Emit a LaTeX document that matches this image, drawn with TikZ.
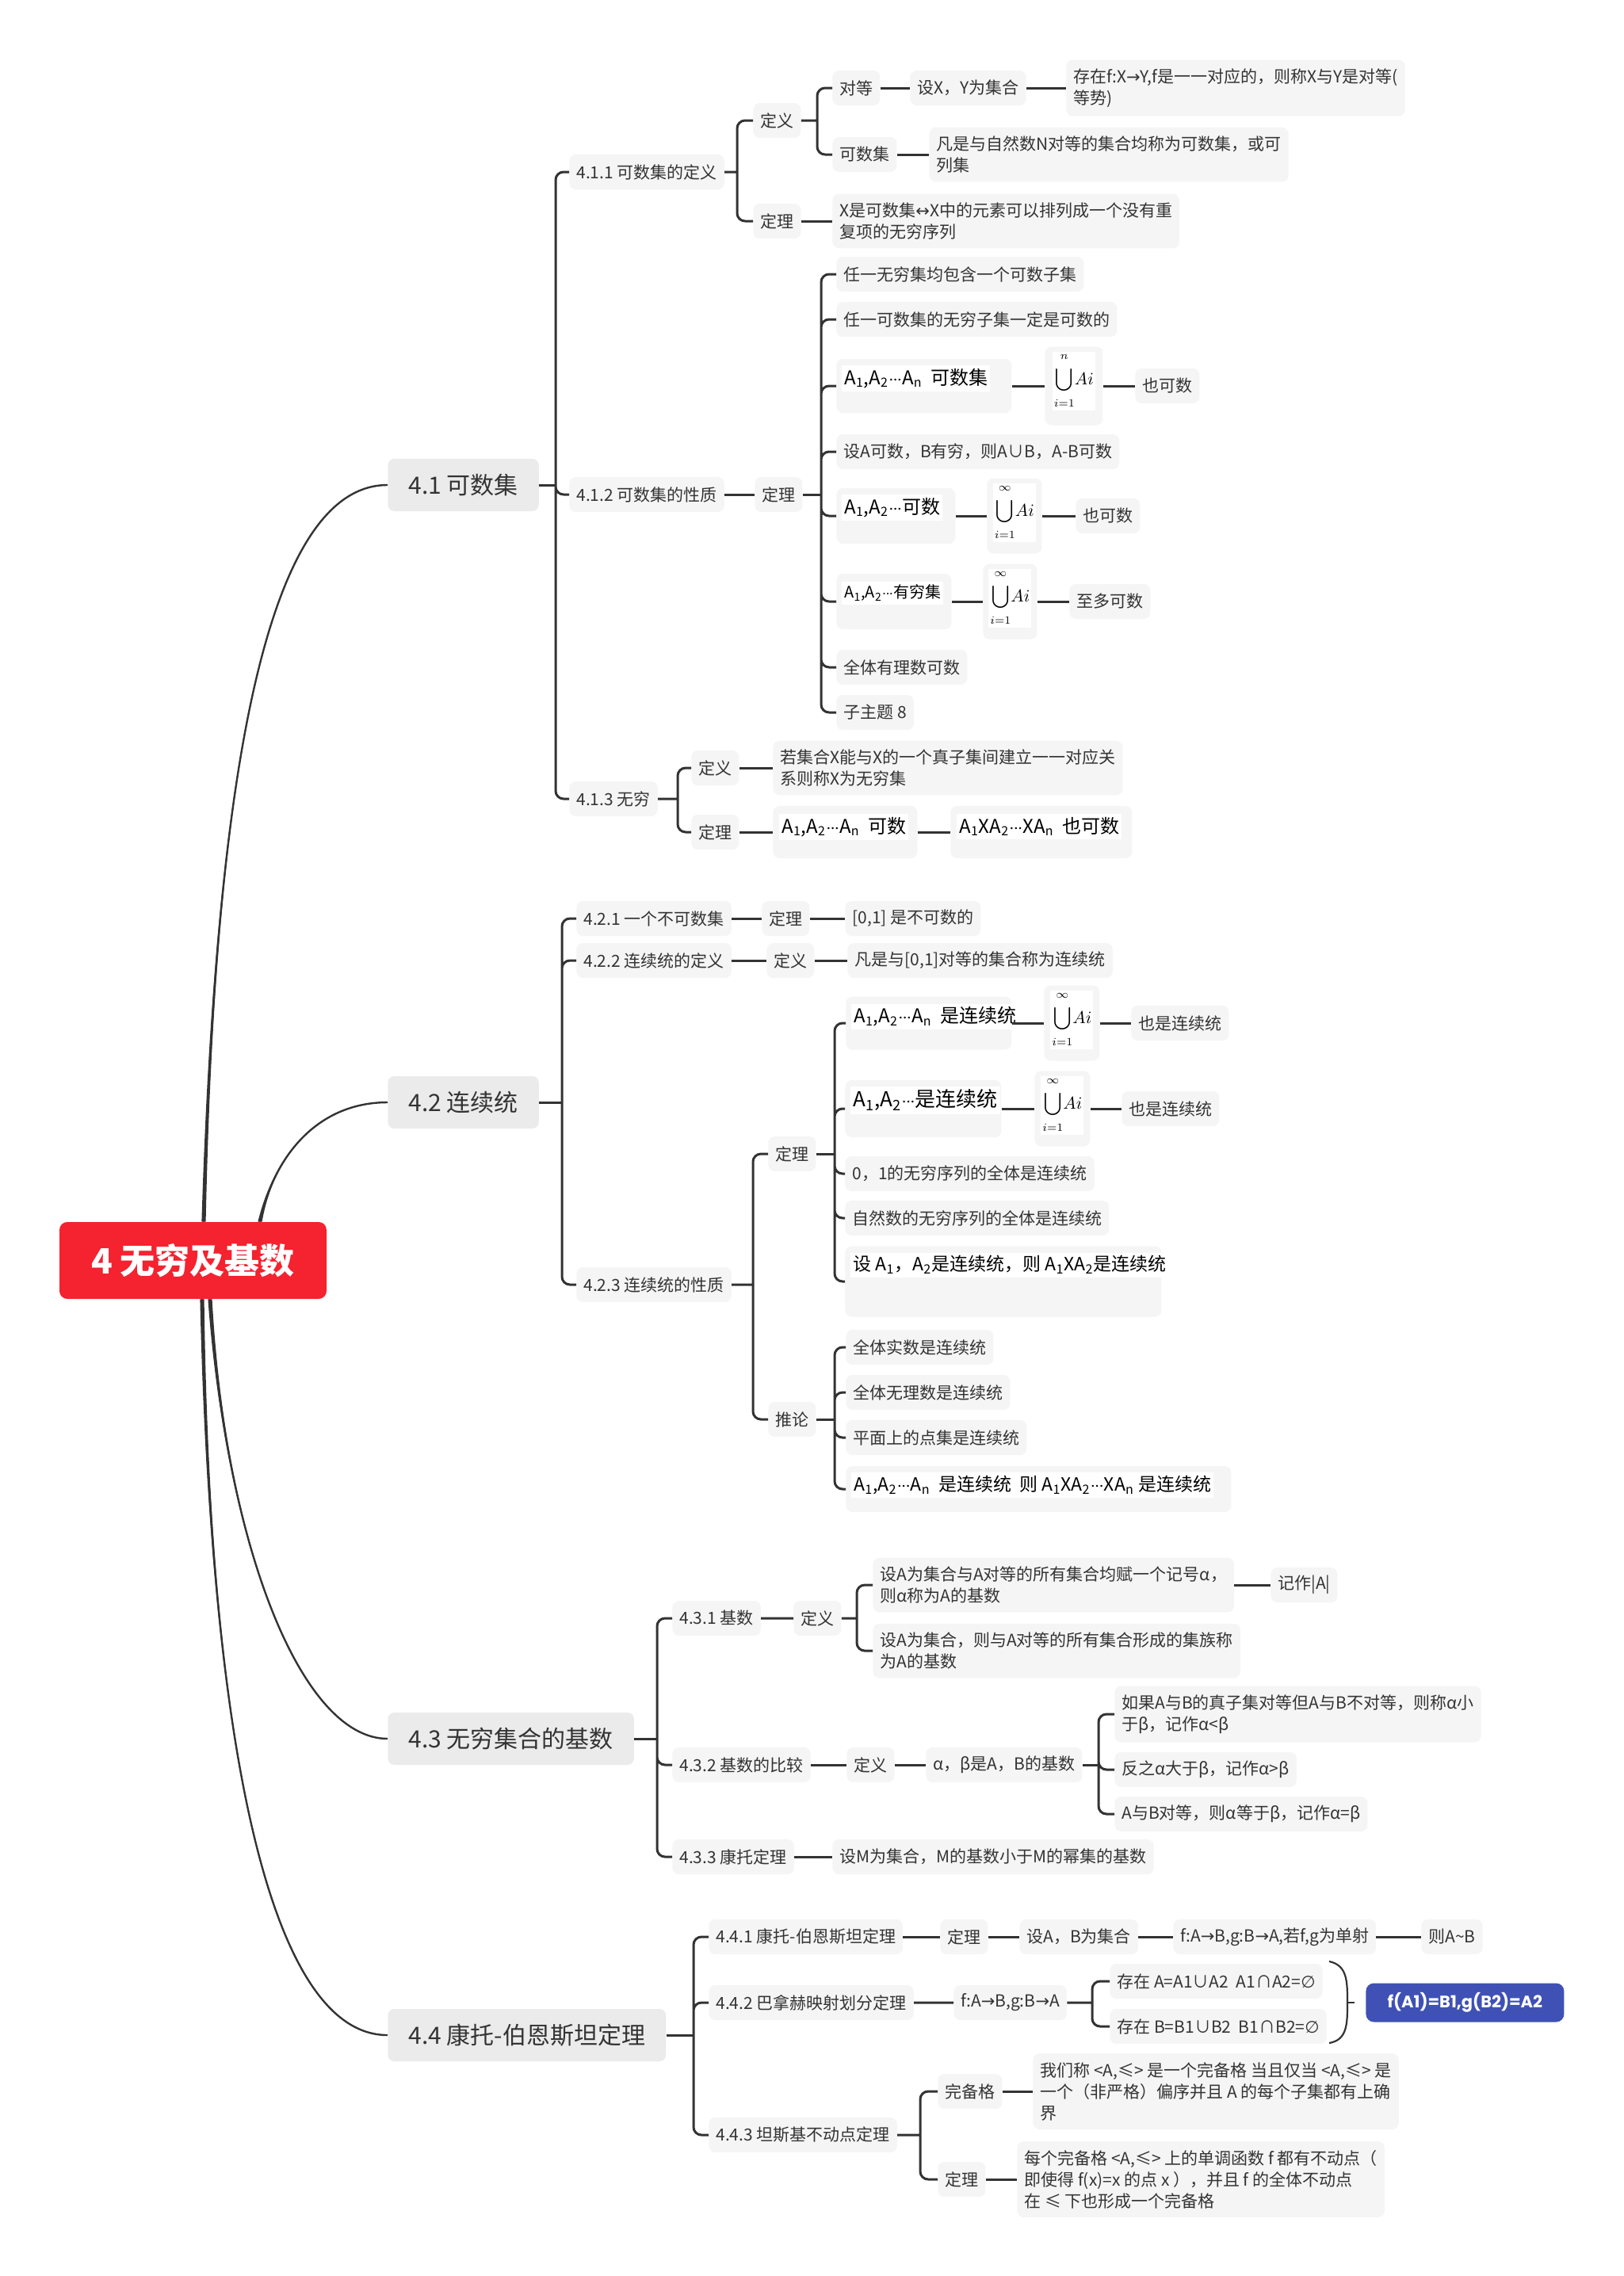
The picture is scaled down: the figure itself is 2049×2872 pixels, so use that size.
\documentclass[tikz,border=0pt]{standalone}
\usepackage{fontspec}
\setmainfont{Noto Sans CJK SC}
\newfontfamily\symfont{DejaVu Sans}
\newfontfamily\popfont{Poppins}
\usetikzlibrary{calc}

\definecolor{linec}{HTML}{333333}
\definecolor{boxc}{HTML}{F5F5F5}
\definecolor{mainc}{HTML}{EBEBEB}
\definecolor{rootc}{HTML}{F5222F}
\definecolor{bluec}{HTML}{3F51B5}
\definecolor{textc}{HTML}{333333}

\newcommand{\subi}[1]{\textsubscript{#1}}
\newcommand{\cdd}{\mbox{$\cdotp\mkern-4mu\cdotp\mkern-4mu\cdotp$}}
\newcommand{\unionof}[1]{$\displaystyle\bigcup\limits_{\raisebox{-3pt}{$\scriptstyle i=1$}}^{\raisebox{3pt}{$\scriptstyle #1$}}\!Ai$}

\tikzset{
  conn/.style={draw=linec, line width=1.5pt, rounded corners=5pt},
  trunk/.style={draw=linec, line width=1.2pt},
  paren/.style={draw=linec, line width=1.1pt},
  tbox/.style={fill=boxc, rounded corners=4pt, text=textc, inner xsep=4.5pt, inner ysep=0pt, minimum height=22pt, font=\fontsize{10.5}{13.5}\selectfont, anchor=west},
  para/.style={tbox, align=left, inner ysep=5.5pt},
  mainbox/.style={tbox, fill=mainc, minimum height=33pt, inner xsep=13pt, font=\fontsize{15}{18}\selectfont},
  rootbox/.style={fill=rootc, rounded corners=5pt, text=white, minimum width=168.5pt, minimum height=48.5pt, font=\fontsize{22}{26}\selectfont\bfseries},
  bluebox/.style={fill=bluec, rounded corners=5pt, text=white, anchor=west, minimum width=125pt, minimum height=24.5pt, font=\popfont\fontsize{10.5}{12}\selectfont\bfseries},
  imgbox/.style={fill=boxc, rounded corners=4pt, inner sep=0pt, anchor=west},
  imgtxt/.style={fill=white, inner xsep=1.5pt, inner ysep=2pt, anchor=north west, text=black, font=\fontsize{12}{14}\selectfont},
  unitxt/.style={fill=white, inner sep=1pt, anchor=north, text=black, font=\fontsize{10.5}{12}\selectfont},
}

\begin{document}
\begin{tikzpicture}[x=0.5pt,y=-0.5pt]
\useasboundingbox (0,0) rectangle (2049,2872);

% root and main topics
\node[rootbox] (root) at (243.5,1590.5) {4 无穷及基数};
\node[mainbox] (b41) at (489,612) {4.1 可数集};
\node[mainbox] (b42) at (489,1391) {4.2 连续统};
\node[mainbox] (b43) at (489,2194) {4.3 无穷集合的基数};
\node[mainbox] (b44) at (489,2568) {4.4 康托-伯恩斯坦定理};

\coordinate (r41) at ([xshift=6.75pt]root.north);
\coordinate (r42) at ([xshift=42.25pt]root.north);
\coordinate (r43) at ([xshift=10.75pt]root.south);
\coordinate (r44) at ([xshift=5.75pt]root.south);
\draw[trunk] (r41) .. controls (272,960) and (340,612) .. (b41.west);
\draw[trunk] (r42) .. controls (345,1460) and (400,1391) .. (b42.west);
\draw[trunk] (r43) .. controls (285,1950) and (380,2194) .. (b43.west);
\draw[trunk] (r44) .. controls (265,2200) and (340,2568) .. (b44.west);
\fill[linec] ([xshift=-1.3pt]r41) .. controls (272,960) and (340,612) .. (b41.west) .. controls (340,612) and (272,960) .. ([xshift=1.3pt]r41) -- cycle;
\fill[linec] ([xshift=-1.3pt]r42) .. controls (345,1460) and (400,1391) .. (b42.west) .. controls (400,1391) and (345,1460) .. ([xshift=1.3pt]r42) -- cycle;
\fill[linec] ([xshift=-1.3pt]r43) .. controls (285,1950) and (380,2194) .. (b43.west) .. controls (380,2194) and (285,1950) .. ([xshift=1.3pt]r43) -- cycle;
\fill[linec] ([xshift=-1.3pt]r44) .. controls (265,2200) and (340,2568) .. (b44.west) .. controls (340,2568) and (265,2200) .. ([xshift=1.3pt]r44) -- cycle;

% 4.1
\node[tbox] (n411) at (718,217) {4.1.1 可数集的定义};
\node[tbox] (n412) at (718,624) {4.1.2 可数集的性质};
\node[tbox] (n413) at (718,1008) {4.1.3 无穷};
\coordinate (j41) at (701,612);
\draw[conn] (b41.east) -- (j41);
\draw[conn] (j41) |- (n411.west) (j41) |- (n412.west) (j41) |- (n413.west);

\node[tbox] (n411a) at (950,152) {定义};
\node[tbox] (n411b) at (950,279) {定理};
\node[tbox] (n411a1) at (1050,111) {对等};
\node[tbox] (n411a1x) at (1148,111) {设X，Y为集合};
\node[para] (n411a1y) at (1345,111) {存在f:X{\symfont →}Y,f是一一对应的，则称X与Y是对等(\\等势)};
\node[tbox] (n411a2) at (1050,195) {可数集};
\node[para] (n411a2x) at (1172,195) {凡是与自然数N对等的集合均称为可数集，或可\\列集};
\node[para] (n411b1) at (1050,279) {X是可数集{\symfont ↔}X中的元素可以排列成一个没有重\\复项的无穷序列};
\coordinate (j411) at (930,217);
\coordinate (j411a) at (1031,152);
\draw[conn] (n411.east) -- (j411) (j411) |- (n411a.west) (j411) |- (n411b.west);
\draw[conn] (n411a.east) -- (j411a) (j411a) |- (n411a1.west) (j411a) |- (n411a2.west);
\draw[conn] (n411a1.east) -- (n411a1x.west) (n411a1x.east) -- (n411a1y.west);
\draw[conn] (n411a2.east) -- (n411a2x.west) (n411b.east) -- (n411b1.west);

\node[tbox] (n412a) at (952,624) {定理};
\node[tbox] (n412a1) at (1055,346) {任一无穷集均包含一个可数子集};
\node[tbox] (n412a2) at (1055,403) {任一可数集的无穷子集一定是可数的};
\node[imgbox, minimum width=110.5pt, minimum height=34pt] (a3) at (1055,487) {};
\node[imgtxt] (a3t) at ([shift={(3.5pt,-4pt)}]a3.north west) {A\subi{1},A\subi{2}\cdd A\subi{n}\ \ 可数集};
\node[imgbox, minimum width=36.5pt, minimum height=49.5pt] (u1) at (1318,487) {};
\node[unitxt] (u1t) at ([yshift=-3pt]u1.north) {\unionof{n}};
\node[tbox] (a3r) at (1432,487) {也可数};
\node[tbox] (n412a4) at (1055,570) {设A可数，B有穷，则A∪B，A-B可数};
\node[imgbox, minimum width=75pt, minimum height=35pt] (a5) at (1055,651) {};
\node[imgtxt] (a5t) at ([shift={(3.5pt,-4pt)}]a5.north west) {A\subi{1},A\subi{2}\cdd 可数};
\node[imgbox, minimum width=34.5pt, minimum height=47.5pt] (u2) at (1245,651) {};
\node[unitxt] (u2t) at ([yshift=-3pt]u2.north) {\unionof{\infty}};
\node[tbox] (a5r) at (1357,651) {也可数};
\node[imgbox, minimum width=72.5pt, minimum height=35pt] (a6) at (1055,759) {};
\node[imgtxt, font=\fontsize{10}{12}\selectfont] (a6t) at ([shift={(3.5pt,-5pt)}]a6.north west) {A\subi{1},A\subi{2}\cdd 有穷集};
\node[imgbox, minimum width=34pt, minimum height=47.5pt] (u3) at (1240,759) {};
\node[unitxt] (u3t) at ([yshift=-3pt]u3.north) {\unionof{\infty}};
\node[tbox] (a6r) at (1349,759) {至多可数};
\node[tbox] (n412a7) at (1055,842) {全体有理数可数};
\node[tbox] (n412a8) at (1055,899) {子主题 8};
\coordinate (j412a) at (1036,624);
\draw[conn] (n412.east) -- (n412a.west) (n412a.east) -- (j412a);
\draw[conn] (j412a) |- (n412a1.west) (j412a) |- (n412a2.west) (j412a) |- (a3.west) (j412a) |- (n412a4.west);
\draw[conn] (j412a) |- (a5.west) (j412a) |- (a6.west) (j412a) |- (n412a7.west) (j412a) |- (n412a8.west);
\draw[conn] (a3.east) -- (u1.west) (u1.east) -- (a3r.west);
\draw[conn] (a5.east) -- (u2.west) (u2.east) -- (a5r.west);
\draw[conn] (a6.east) -- (u3.west) (u3.east) -- (a6r.west);

\node[tbox] (n413a) at (872,969) {定义};
\node[tbox] (n413b) at (872,1050) {定理};
\node[para] (n413a1) at (975,969) {若集合X能与X的一个真子集间建立一一对应关\\系则称X为无穷集};
\node[imgbox, minimum width=91pt, minimum height=33pt] (b1) at (975,1050) {};
\node[imgtxt] (b1t) at ([shift={(4pt,-5pt)}]b1.north west) {A\subi{1},A\subi{2}\cdd A\subi{n}\ \ 可数};
\node[imgbox, minimum width=114.5pt, minimum height=33pt] (b2) at (1199,1050) {};
\node[imgtxt] (b2t) at ([shift={(4pt,-5pt)}]b2.north west) {A\subi{1}XA\subi{2}\cdd XA\subi{n}\ \ 也可数};
\coordinate (j413) at (855,1008);
\draw[conn] (n413.east) -- (j413) (j413) |- (n413a.west) (j413) |- (n413b.west);
\draw[conn] (n413a.east) -- (n413a1.west) (n413b.east) -- (b1.west) (b1.east) -- (b2.west);

% 4.2
\node[tbox] (n421) at (727,1159) {4.2.1 一个不可数集};
\node[tbox] (n421a) at (961,1159) {定理};
\node[tbox] (n421b) at (1066,1159) {[0,1] 是不可数的};
\node[tbox] (n422) at (727,1212) {4.2.2 连续统的定义};
\node[tbox] (n422a) at (967,1212) {定义};
\node[tbox] (n422b) at (1069,1212) {凡是与[0,1]对等的集合称为连续统};
\node[tbox] (n423) at (727,1621) {4.2.3 连续统的性质};
\coordinate (j42) at (709,1391);
\draw[conn] (b42.east) -- (j42);
\draw[conn] (j42) |- (n421.west) (j42) |- (n422.west) (j42) |- (n423.west);
\draw[conn] (n421.east) -- (n421a.west) (n421a.east) -- (n421b.west);
\draw[conn] (n422.east) -- (n422a.west) (n422a.east) -- (n422b.west);

\node[tbox] (n423a) at (969,1456) {定理};
\node[tbox] (n423b) at (969,1791) {推论};
\coordinate (j423) at (950,1621);
\draw[conn] (n423.east) -- (j423) (j423) |- (n423a.west) (j423) |- (n423b.west);

\node[imgbox, minimum width=104.5pt, minimum height=33.5pt] (c1) at (1067,1291) {};
\node[imgtxt] (c1t) at ([shift={(3.5pt,-4.5pt)}]c1.north west) {A\subi{1},A\subi{2}\cdd A\subi{n}\ \ 是连续统};
\node[imgbox, minimum width=35pt, minimum height=47.5pt] (cu1) at (1317,1291) {};
\node[unitxt] (cu1t) at ([yshift=-3pt]cu1.north) {\unionof{\infty}};
\node[tbox] (c1r) at (1427,1291) {也是连续统};
\node[imgbox, minimum width=98.5pt, minimum height=36pt] (c2) at (1066,1399) {};
\node[imgtxt, font=\fontsize{13}{15}\selectfont] (c2t) at ([shift={(3.5pt,-4pt)}]c2.north west) {A\subi{1},A\subi{2}\cdd 是连续统};
\node[imgbox, minimum width=35pt, minimum height=47.5pt] (cu2) at (1305,1399) {};
\node[unitxt] (cu2t) at ([yshift=-3pt]cu2.north) {\unionof{\infty}};
\node[tbox] (c2r) at (1415,1399) {也是连续统};
\node[tbox] (c3) at (1066,1481) {0，1的无穷序列的全体是连续统};
\node[tbox] (c4) at (1066,1537) {自然数的无穷序列的全体是连续统};
\node[imgbox, minimum width=199.5pt, minimum height=44.5pt] (c5) at (1066,1617) {};
\node[imgtxt, font=\fontsize{11.5}{13}\selectfont] (c5t) at ([shift={(3.5pt,-4pt)}]c5.north west) {设 A\subi{1}，A\subi{2}是连续统，则 A\subi{1}XA\subi{2}是连续统};
\coordinate (j423a) at (1053,1456);
\draw[conn] (n423a.east) -- (j423a);
\draw[conn] (j423a) |- (c1.west) (j423a) |- (c2.west) (j423a) |- (c3.west) (j423a) |- (c4.west) (j423a) |- (c5.west);
\draw[conn] (c1.east) -- (cu1.west) (cu1.east) -- (c1r.west);
\draw[conn] (c2.east) -- (cu2.west) (cu2.east) -- (c2r.west);

\node[tbox] (d1) at (1067,1700) {全体实数是连续统};
\node[tbox] (d2) at (1067,1757) {全体无理数是连续统};
\node[tbox] (d3) at (1067,1814) {平面上的点集是连续统};
\node[imgbox, minimum width=243pt, minimum height=29pt] (d4) at (1067,1879) {};
\node[imgtxt, font=\fontsize{11.5}{13}\selectfont] (d4t) at ([shift={(3.5pt,-4pt)}]d4.north west) {A\subi{1},A\subi{2}\cdd A\subi{n}\ \ 是连续统\ \ 则 A\subi{1}XA\subi{2}\cdd XA\subi{n} 是连续统};
\coordinate (j423b) at (1053,1791);
\draw[conn] (n423b.east) -- (j423b);
\draw[conn] (j423b) |- (d1.west) (j423b) |- (d2.west) (j423b) |- (d3.west) (j423b) |- (d4.west);

% 4.3
\node[tbox] (n431) at (848,2042) {4.3.1 基数};
\node[tbox] (n431a) at (1001,2042) {定义};
\node[para] (e1) at (1101,2000) {设A为集合与A对等的所有集合均赋一个记号α，\\则α称为A的基数};
\node[tbox] (e1r) at (1603,2000) {记作|A|};
\node[para] (e2) at (1101,2083) {设A为集合，则与A对等的所有集合形成的集族称\\为A的基数};
\node[tbox] (n432) at (848,2227) {4.3.2 基数的比较};
\node[tbox] (n432a) at (1068,2227) {定义};
\node[tbox] (n432b) at (1168,2227) {α，β是A，B的基数};
\node[para] (f1) at (1406,2163) {如果A与B的真子集对等但A与B不对等，则称α小\\于β，记作α<β};
\node[tbox] (f2) at (1406,2233) {反之α大于β，记作α>β};
\node[tbox] (f3) at (1406,2289) {A与B对等，则α等于β，记作α=β};
\node[tbox] (n433) at (848,2343) {4.3.3 康托定理};
\node[tbox] (g1) at (1050,2343) {设M为集合，M的基数小于M的幂集的基数};
\coordinate (j43) at (829,2194);
\coordinate (j431a) at (1081,2042);
\coordinate (j432b) at (1386,2227);
\draw[conn] (b43.east) -- (j43);
\draw[conn] (j43) |- (n431.west) (j43) |- (n432.west) (j43) |- (n433.west);
\draw[conn] (n431.east) -- (n431a.west) (n431a.east) -- (j431a) (j431a) |- (e1.west) (j431a) |- (e2.west);
\draw[conn] (e1.east |- e1r.west) -- (e1r.west);
\draw[conn] (n432.east) -- (n432a.west) (n432a.east) -- (n432b.west) (n432b.east) -- (j432b);
\draw[conn] (j432b) |- (f1.west) (j432b) |- (f2.west) (j432b) |- (f3.west);
\draw[conn] (n433.east) -- (g1.west);

% 4.4
\node[tbox] (n441) at (894,2444) {4.4.1 康托-伯恩斯坦定理};
\node[tbox] (n441a) at (1186,2444) {定理};
\node[tbox] (n441b) at (1286,2444) {设A，B为集合};
\node[tbox] (n441c) at (1480,2444) {f:A{\symfont →}B,g:B{\symfont →}A,若f,g为单射};
\node[tbox] (n441d) at (1793,2444) {则A\textasciitilde B};
\node[tbox] (n442) at (894,2527) {4.4.2 巴拿赫映射划分定理};
\node[tbox] (n442a) at (1203,2527) {f:A{\symfont →}B,g:B{\symfont →}A};
\node[tbox] (h1) at (1400,2500) {存在 A=A1∪A2\ \ A1∩A2={\symfont ∅}};
\node[tbox] (h2) at (1400,2557) {存在 B=B1∪B2\ \ B1∩B2={\symfont ∅}};
\node[bluebox] (n442b) at (1723,2527) {f(A1)=B1,g(B2)=A2};
\node[tbox] (n443) at (894,2694) {4.4.3 坦斯基不动点定理};
\node[tbox] (n443a) at (1183,2639) {完备格};
\node[para] (k1) at (1303,2639) {我们称 <A,≤> 是一个完备格 当且仅当 <A,≤> 是\\一个（非严格）偏序并且 A 的每个子集都有上确\\界};
\node[tbox] (n443b) at (1183,2750) {定理};
\node[para] (k2) at (1283,2750) {每个完备格 <A,≤> 上的单调函数 f 都有不动点（\\即使得 f(x)=x 的点 x ），并且 f 的全体不动点\\在 ≤ 下也形成一个完备格};
\coordinate (j44) at (875,2568);
\coordinate (j442a) at (1378,2527);
\coordinate (j443) at (1161,2694);
\draw[conn] (b44.east) -- (j44);
\draw[conn] (j44) |- (n441.west) (j44) |- (n442.west) (j44) |- (n443.west);
\draw[conn] (n441.east) -- (n441a.west) (n441a.east) -- (n441b.west) (n441b.east) -- (n441c.west) (n441c.east) -- (n441d.west);
\draw[conn] (n442.east) -- (n442a.west) (n442a.east) -- (j442a) (j442a) |- (h1.west) (j442a) |- (h2.west);
\draw[conn] (n443.east) -- (j443) (j443) |- (n443a.west) (j443) |- (n443b.west);
\draw[conn] (n443a.east) -- (k1.west) (n443b.east) -- (k2.west);

% closing bracket before the result
\coordinate (bt) at (1677,2475);
\coordinate (bm) at (1700,2527);
\coordinate (bb) at (1677,2578);
\draw[paren] (bt) .. controls (1700,2480) and (1700,2500) .. (bm) .. controls (1700,2554) and (1700,2574) .. (bb);
\draw[paren] (bm) -- ++(9,0);
\end{tikzpicture}
\end{document}
